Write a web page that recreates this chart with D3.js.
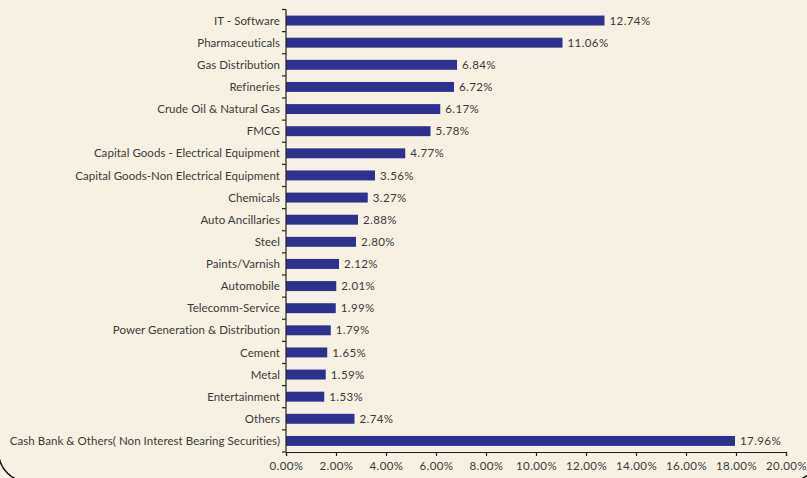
<!DOCTYPE html>
<html><head><meta charset="utf-8">
<script src="https://cdn.jsdelivr.net/npm/d3@7"></script>
<style>
html,body{margin:0;padding:0;background:#f7f1e3;}
svg{display:block;}
</style></head>
<body>
<svg id="chart" width="807" height="478"></svg>
<script>
const categories = ["IT - Software","Pharmaceuticals","Gas Distribution","Refineries","Crude Oil & Natural Gas","FMCG","Capital Goods - Electrical Equipment","Capital Goods-Non Electrical Equipment","Chemicals","Auto Ancillaries","Steel","Paints/Varnish","Automobile","Telecomm-Service","Power Generation & Distribution","Cement","Metal","Entertainment","Others","Cash Bank & Others( Non Interest Bearing Securities)"];
const values = [12.74,11.06,6.84,6.72,6.17,5.78,4.77,3.56,3.27,2.88,2.80,2.12,2.01,1.99,1.79,1.65,1.59,1.53,2.74,17.96];
const xTicks = [0,2,4,6,8,10,12,14,16,18,20];

(function(){
const W = 807, H = 478;
const svg = d3.select("#chart");
svg.append("rect").attr("width",W).attr("height",H).attr("fill","#f7f1e3");

const pL = 286, pR = 786, pT = 9.5, pB = 452;
const x = d3.scaleLinear().domain([0,20]).range([pL,pR]);
const y = d3.scaleBand().domain(categories).range([pT,pB]).paddingInner(0.55).paddingOuter(0.275);

const font = "Lato, 'Open Sans', sans-serif";
const txt = "#3a3a3a";

svg.append("g").selectAll("rect").data(values).join("rect")
  .attr("x", x(0)).attr("y",(d,i)=>y(categories[i]))
  .attr("width", d=>x(d)-x(0)).attr("height", y.bandwidth())
  .attr("fill","#2e3190");

svg.append("g").selectAll("text").data(values).join("text")
  .attr("x", d=>x(d)+5).attr("y",(d,i)=>y(categories[i])+y.bandwidth()/2)
  .attr("dy","0.36em").attr("font-family",font).attr("font-size","11.5px")
  .attr("letter-spacing","0.4px")
  .attr("fill",txt).text(d=>d.toFixed(2)+"%");

const step = (pB-pT)/categories.length;
const yAx = svg.append("g");
yAx.append("line").attr("x1",pL).attr("x2",pL).attr("y1",pT).attr("y2",pB).attr("stroke","#222").attr("stroke-width",1.2);
yAx.selectAll("line.t").data(d3.range(categories.length+1)).join("line").attr("class","t")
  .attr("x1",pL-4).attr("x2",pL).attr("y1",i=>pT+i*step).attr("y2",i=>pT+i*step)
  .attr("stroke","#222").attr("stroke-width",1.2);
yAx.selectAll("text").data(categories).join("text")
  .attr("x",pL-6).attr("y",d=>y(d)+y.bandwidth()/2).attr("dy","0.36em")
  .attr("text-anchor","end").attr("font-family",font).attr("font-size","11.5px")
  .attr("letter-spacing","0.05px")
  .attr("fill",txt).text(d=>d);

const xAx = svg.append("g").attr("transform",`translate(0,${pB})`)
  .call(d3.axisBottom(x).tickValues(xTicks).tickSize(4).tickPadding(6).tickFormat(d=>d.toFixed(2)+"%"));
xAx.select(".domain").attr("stroke","#222").attr("stroke-width",1.2);
xAx.selectAll(".tick line").attr("stroke","#222").attr("stroke-width",1.2);
xAx.selectAll("text").attr("font-family",font).attr("font-size","11.5px").attr("letter-spacing","0.4px").attr("fill",txt);

svg.append("rect").attr("x",-1.5).attr("y",-200).attr("width",820).attr("height",681.7)
  .attr("rx",30).attr("ry",30).attr("fill","none").attr("stroke","#111").attr("stroke-width",1.5);
})();
</script>
</body></html>
